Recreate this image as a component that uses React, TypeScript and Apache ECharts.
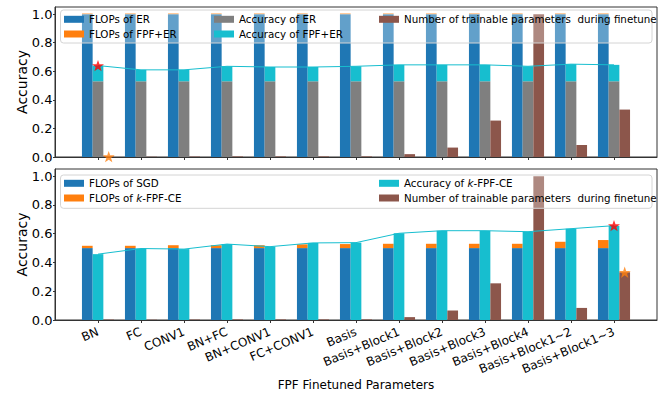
import React, { useEffect, useRef } from "react";
import * as echarts from "echarts";

const categories = ["BN", "FC", "CONV1", "BN+FC", "BN+CONV1", "FC+CONV1", "Basis", "Basis+Block1", "Basis+Block2", "Basis+Block3", "Basis+Block4", "Basis+Block1~2", "Basis+Block1~3"];
// top panel
const flopsER = [1, 1, 1, 1, 1, 1, 1, 1, 1, 1, 1, 1, 1];
const flopsFPFER = [1.005, 1.005, 1.005, 1.005, 1.005, 1.005, 1.005, 1.005, 1.005, 1.005, 1.005, 1.005, 1.005];
const accER = [0.53, 0.53, 0.53, 0.53, 0.53, 0.53, 0.53, 0.53, 0.53, 0.53, 0.53, 0.53, 0.53];
const accFPFER = [0.64, 0.61, 0.61, 0.635, 0.63, 0.63, 0.635, 0.645, 0.645, 0.645, 0.635, 0.65, 0.645];
// shared
const trainableParams = [0.003, 0.002, 0.003, 0.004, 0.004, 0.004, 0.004, 0.02, 0.066, 0.255, 1.0, 0.084, 0.332];
// bottom panel
const flopsSGD = [0.5, 0.5, 0.5, 0.5, 0.5, 0.5, 0.5, 0.5, 0.5, 0.5, 0.5, 0.5, 0.5];
const flopsKFPF = [0.516, 0.516, 0.52, 0.52, 0.52, 0.526, 0.528, 0.53, 0.53, 0.53, 0.53, 0.544, 0.556];
const accKFPF = [0.458, 0.497, 0.493, 0.528, 0.51, 0.536, 0.538, 0.603, 0.621, 0.621, 0.614, 0.635, 0.656];
const yTicks = [0, 0.2, 0.4, 0.6, 0.8, 1.0];
const TOP_STAR = 0;
const BOTTOM_STAR = 12;

const FONT = "DejaVu Sans";
const C = { blue: "#1f77b4", orange: "#ff7f0e", gray: "#7f7f7f", cyan: "#17becf", brown: "#8c564b" };
const PNAME = "Number of trainable parameters  during finetune";
const BW = 10.7;
const STAR = "path://M50,0 L61.8,35.1 L98.1,35.1 L68.8,56.8 L79.4,90.9 L50,70 L20.6,90.9 L31.2,56.8 L1.9,35.1 L38.2,35.1 Z";

const pad = (a: any[]) => ["-", ...a, "-"];
const cats = pad(categories).map((c) => (c === "-" ? "" : c));

export default function App() {
  const ref = useRef<HTMLDivElement>(null);
  useEffect(() => {
    document.body.style.margin = "0";
    const chart = echarts.init(ref.current!, null, { renderer: "svg" });
    const xAxis = (i: number, labels: boolean) => ({
      type: "category",
      gridIndex: i,
      data: cats,
      boundaryGap: false,
      axisLine: { show: true, onZero: false, lineStyle: { color: "#333", width: 1 } },
      axisTick: { show: true, length: 3, interval: (idx: number) => idx > 0 && idx < cats.length - 1, lineStyle: { color: "#333" } },
      axisLabel: labels
        ? { show: true, interval: 0, rotate: 23, fontSize: 12, fontFamily: FONT, color: "#000", margin: 11 }
        : { show: false },
      splitLine: { show: false },
    });
    const yAxis = (i: number) => ({
      type: "value",
      gridIndex: i,
      min: 0,
      max: 1.05,
      interval: 0.2,
      axisLine: { show: true, lineStyle: { color: "#333" } },
      axisTick: { show: true, length: 2, lineStyle: { color: "#333" }, customValues: yTicks },
      axisLabel: {
        fontSize: 13, fontFamily: FONT, color: "#000", margin: 2.5,
        customValues: yTicks,
        formatter: (v: number) => (Math.abs(v * 5 - Math.round(v * 5)) > 1e-6 ? "" : v.toFixed(1)),
      },
      splitLine: { show: false },
    });
    const bar = (name: string, data: number[], stack: string, color: string, i: number) => ({
      type: "bar", name, data: pad(data), stack, barWidth: BW, barGap: "0%",
      xAxisIndex: i, yAxisIndex: i, itemStyle: { color }, silent: true, z: 2,
    });
    const diff = (a: number[], b: number[]) => a.map((v, k) => +(v - b[k]).toFixed(4));
    const star = (i: number, idx: number, val: number, color: string, off: number) => ({
      type: "scatter", xAxisIndex: i, yAxisIndex: i, data: [[idx + 1, val]], symbol: STAR, symbolSize: 12,
      symbolKeepAspect: true, symbolOffset: [off, 0], itemStyle: { color }, z: 6, silent: true,
    });
    const legend = (data: string[], left: number, top: number) => ({
      data, left, top, orient: "vertical", padding: 0, itemGap: 2.7, itemWidth: 20, itemHeight: 7,
      itemTextGap: 8, icon: "rect", selectedMode: false, z: 10,
      formatter: (n: string) => n.replace("k-FPF", "{i|k}-FPF"),
      textStyle: { fontSize: 10.3, fontFamily: FONT, color: "#000", lineHeight: 12, rich: { i: { fontStyle: "italic", fontSize: 10.3, fontFamily: FONT, color: "#000" } } },
    });
    const yName = (y: number) => ({
      type: "text", z: 8, x: 21.7, y, rotation: Math.PI / 2,
      style: { text: "Accuracy", fontSize: 14, fontFamily: FONT, fill: "#000", align: "center", verticalAlign: "middle" },
    });
    const option: any = {
      animation: false,
      grid: [
        { left: 55, top: 7, width: 602, height: 150, show: true, borderColor: "#333", borderWidth: 1, backgroundColor: "transparent" },
        { left: 55, top: 169, width: 602, height: 151, show: true, borderColor: "#333", borderWidth: 1, backgroundColor: "transparent" },
      ],
      xAxis: [xAxis(0, false), xAxis(1, true)],
      yAxis: [yAxis(0), yAxis(1)],
      legend: [
        legend(["FLOPs of ER", "FLOPs of FPF+ER"], 64, 13.3),
        legend(["Accuracy of ER", "Accuracy of FPF+ER"], 214, 13.3),
        legend([PNAME], 379, 13.3),
        legend(["FLOPs of SGD", "FLOPs of k-FPF-CE"], 64, 177.3),
        legend(["Accuracy of k-FPF-CE", PNAME], 379, 177.3),
      ],
      graphic: [
        { type: "rect", z: 8, shape: { x: 60.5, y: 10, width: 591.5, height: 33, r: 3 }, style: { fill: "rgba(255,255,255,0.3)", stroke: "#d4d4d4", lineWidth: 1 } },
        { type: "rect", z: 8, shape: { x: 60.5, y: 175, width: 591.5, height: 33.3, r: 3 }, style: { fill: "rgba(255,255,255,0.3)", stroke: "#d4d4d4", lineWidth: 1 } },
        { type: "text", z: 8, x: 356, y: 385, style: { text: "FPF Finetuned Parameters", fontSize: 12, fontFamily: FONT, fill: "#000", align: "center", verticalAlign: "middle" } },
        yName(82),
        yName(244.5),
      ],
      series: [
        bar("FLOPs of ER", flopsER, "f0", C.blue, 0),
        bar("FLOPs of FPF+ER", diff(flopsFPFER, flopsER), "f0", C.orange, 0),
        bar("Accuracy of ER", accER, "a0", C.gray, 0),
        bar("Accuracy of FPF+ER", diff(accFPFER, accER), "a0", C.cyan, 0),
        bar(PNAME, trainableParams, "p0", C.brown, 0),
        { type: "line", name: "lineTop", data: pad(accFPFER), xAxisIndex: 0, yAxisIndex: 0, symbol: "none", lineStyle: { color: C.cyan, width: 1 }, z: 4, silent: true },
        star(0, TOP_STAR, accFPFER[TOP_STAR], "#ff0000", 0),
        star(0, TOP_STAR, trainableParams[TOP_STAR], C.orange, BW),

        bar("FLOPs of SGD", flopsSGD, "f1", C.blue, 1),
        bar("FLOPs of k-FPF-CE", diff(flopsKFPF, flopsSGD), "f1", C.orange, 1),
        bar("Accuracy of k-FPF-CE", accKFPF, "a1", C.cyan, 1),
        bar(PNAME, trainableParams, "p1", C.brown, 1),
        { type: "line", name: "lineBottom", data: pad(accKFPF), xAxisIndex: 1, yAxisIndex: 1, symbol: "none", lineStyle: { color: C.cyan, width: 1 }, z: 4, silent: true },
        star(1, BOTTOM_STAR, accKFPF[BOTTOM_STAR], "#ff0000", 0),
        star(1, BOTTOM_STAR, trainableParams[BOTTOM_STAR], C.orange, BW),
      ],
    };
    chart.setOption(option);
    return () => chart.dispose();
  }, []);
  return <div ref={ref} style={{ width: 664, height: 399 }} />;
}
